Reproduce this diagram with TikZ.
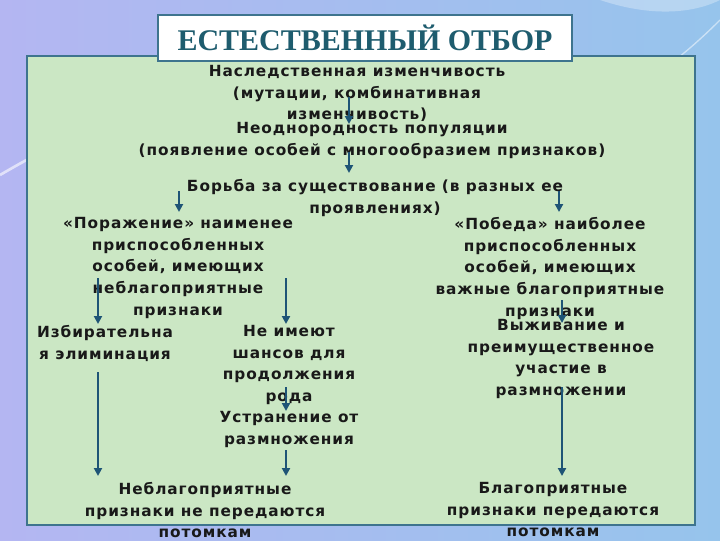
\documentclass[tikz,border=0pt]{standalone}
\usepackage{fontspec}
\setmainfont[LetterSpace=6]{DejaVu Sans}
\newfontfamily\titlefont{Liberation Serif}
\usetikzlibrary{arrows.meta}
\definecolor{bgleft}{RGB}{180,182,242}
\definecolor{bgright}{RGB}{150,196,236}
\definecolor{panel}{RGB}{203,231,196}
\definecolor{frame}{RGB}{62,116,142}
\definecolor{arrowblue}{RGB}{30,84,118}
\definecolor{titleteal}{RGB}{30,92,110}
\tikzset{
  txt/.style={align=center,font=\bfseries\fontsize{11.5}{16.3}\selectfont,text=black!90,inner sep=0pt},
  arr/.style={-{Triangle[length=6pt,width=6pt]},line width=1.6pt,draw=arrowblue}
}
\begin{document}
\begin{tikzpicture}[x=0.75pt,y=0.75pt,yscale=-1,xscale=1]
%background
\shade[left color=bgleft,right color=bgright] (0,0) rectangle (720,540);
\useasboundingbox (0,0) rectangle (720,540);
\draw[white,opacity=0.6,line width=2pt] (0,175) .. controls (60,140) and (120,110) .. (200,110);
\draw[white,opacity=0.5,line width=1pt] (540,120) .. controls (620,110) and (680,60) .. (720,20);
\fill[white,opacity=0.3] (600,0) .. controls (660,20) and (700,10) .. (720,0) -- cycle;
%Panel
\draw[fill=panel,draw=frame,line width=1.5pt] (27,56) rectangle (695,525);
%Title
\node[draw=frame,fill=white,line width=1.5pt,minimum width=310pt,minimum height=34pt,inner sep=0pt,
  font=\titlefont\bfseries\fontsize{22.5}{25}\selectfont,text=titleteal] (title) at (365,38) {ЕСТЕСТВЕННЫЙ ОТБОР};
%Text nodes
\node[txt,anchor=north] (hered) at (357,65) {Наследственная изменчивость\\(мутации, комбинативная\\изменчивость)};
\node[txt,anchor=north] (hetero) at (372,122) {Неоднородность популяции\\(появление особей с многообразием признаков)};
\node[txt,anchor=north] (struggle) at (375,179) {Борьба за существование (в разных ее\\проявлениях)};
\node[txt,anchor=north] (defeat) at (178,217) {«Поражение» наименее\\приспособленных\\особей, имеющих\\неблагоприятные\\признаки};
\node[txt,anchor=north] (victory) at (550,217) {«Победа» наиболее\\приспособленных\\особей, имеющих\\важные благоприятные\\признаки};
\node[txt,anchor=north] (elim) at (105,325) {Избирательна\\я элиминация};
\node[txt,anchor=north] (nochance) at (289,325) {Не имеют\\шансов для\\продолжения\\рода};
\node[txt,anchor=north] (removal) at (289,411) {Устранение от\\размножения};
\node[txt,anchor=north] (survive) at (561,319) {Выживание и\\преимущественное\\участие в\\размножении};
\node[txt,anchor=north] (badres) at (205,482) {Неблагоприятные\\признаки не передаются\\потомкам};
\node[txt,anchor=north] (goodres) at (553,482) {Благоприятные\\признаки передаются\\потомкам};
%Arrows
\coordinate (a1) at (349,97);   \coordinate (b1) at (349,124);
\coordinate (a2) at (349,152);  \coordinate (b2) at (349,173);
\coordinate (a3) at (179,191);  \coordinate (b3) at (179,212);
\coordinate (a4) at (559,191);  \coordinate (b4) at (559,212);
\coordinate (a5) at (98,278);   \coordinate (b5) at (98,324);
\coordinate (a6) at (286,278);  \coordinate (b6) at (286,324);
\coordinate (a7) at (562,300);  \coordinate (b7) at (562,323);
\coordinate (a8) at (98,372);   \coordinate (b8) at (98,476);
\coordinate (a9) at (286,387);  \coordinate (b9) at (286,411);
\coordinate (a10) at (286,450); \coordinate (b10) at (286,476);
\coordinate (a11) at (562,387); \coordinate (b11) at (562,476);
\foreach \i in {1,...,11} \draw[arr] (a\i) -- (b\i);
\end{tikzpicture}
\end{document}
